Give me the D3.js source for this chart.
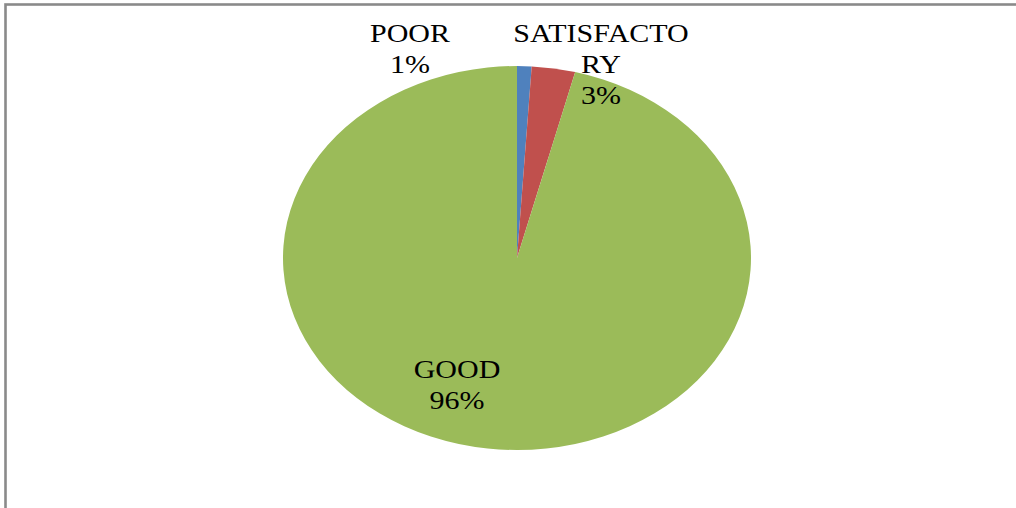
<!DOCTYPE html>
<html>
<head>
<meta charset="utf-8">
<script src="https://cdn.jsdelivr.net/npm/d3@7"></script>
<style>
  html, body { margin: 0; padding: 0; background: #fff; }
  svg { display: block; }
</style>
</head>
<body>
<svg id="chart" width="1016" height="508"></svg>
<script>
const categories = ["POOR", "SATISFACTORY", "GOOD"];
const values = [1, 3, 96];
const labelLines = [["POOR", "1%"], ["SATISFACTO", "RY", "3%"], ["GOOD", "96%"]];
const colors = ["#4F81BD", "#C0504D", "#9BBB59"];

const W = 1016, H = 508;
const cx = 517, cy = 258, rx = 234, ry = 192;
// label anchor positions (layout, relative to pie centre) — first-line baseline
const labelPos = [[-107, -216], [84, -216], [-60, 120]];
const lineH = 31;

const svg = d3.select("#chart");
svg.append("rect").attr("width", W).attr("height", H).attr("fill", "#fff");

// frame (only left & top edges visible in reference)
svg.append("rect")
  .attr("x", 5.5).attr("y", 4.5)
  .attr("width", W + 20).attr("height", H + 20)
  .attr("fill", "none").attr("stroke", "#8a8a8a").attr("stroke-width", 2.6);

const pie = d3.pie().sort(null).value(d => d.v);
const arcs = pie(categories.map((c, i) => ({ c, v: values[i], i })));
const arc = d3.arc().innerRadius(0).outerRadius(ry);

const g = svg.append("g").attr("transform", `translate(${cx},${cy})`);
g.append("g").attr("transform", `scale(${rx / ry},1)`)
  .selectAll("path").data(arcs).join("path")
  .attr("d", arc)
  .attr("fill", d => colors[d.data.i]);

const lab = g.append("g");
arcs.forEach((a, i) => {
  const [lx, ly] = labelPos[i];
  const t = lab.append("g").attr("transform", `translate(${lx},${ly}) scale(1.2,1)`);
  labelLines[i].forEach((s, k) => {
    t.append("text")
      .attr("x", 0).attr("y", k * lineH)
      .attr("text-anchor", "middle")
      .attr("font-family", "'Liberation Serif', 'Times New Roman', serif")
      .attr("font-size", 25)
      .attr("fill", "#000")
      .text(s);
  });
});
</script>
</body>
</html>
